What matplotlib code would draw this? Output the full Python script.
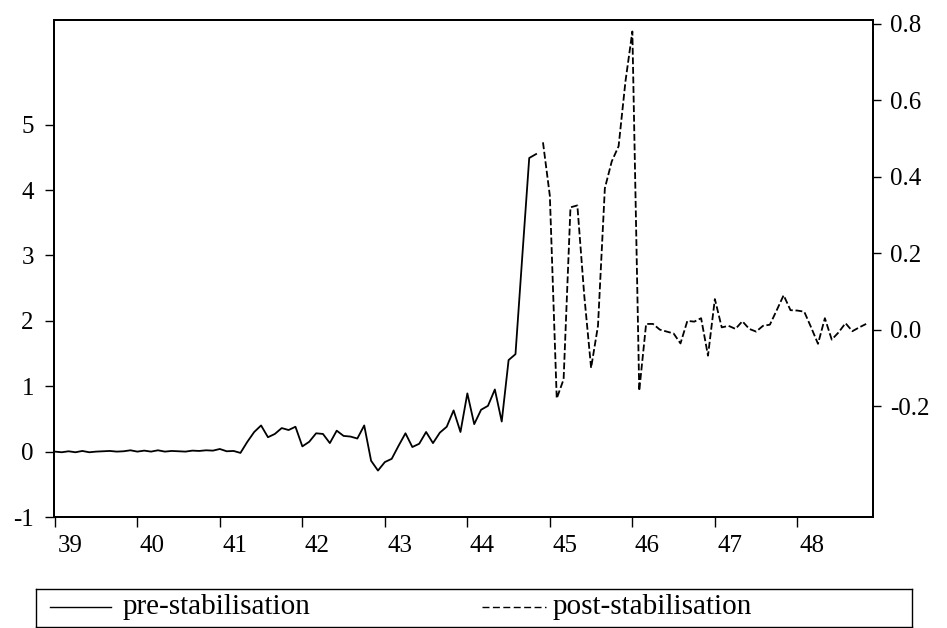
import numpy as np
import matplotlib
matplotlib.use("Agg")
import matplotlib.pyplot as plt
import matplotlib.transforms as mtransforms

# monthly series, Jan 1939 onwards (pre on left axis, post on right axis)
pre = [0.0, -0.01, 0.005, -0.01, 0.01, -0.01, 0.0, 0.005, 0.01, 0.0,
       0.005, 0.02, 0.0, 0.015, 0.0, 0.02, 0.0, 0.01, 0.005, 0.0,
       0.015, 0.01, 0.02, 0.015, 0.04, 0.005, 0.01, -0.02, 0.15, 0.30,
       0.40, 0.22, 0.27, 0.36, 0.33, 0.38, 0.08, 0.15, 0.28, 0.27,
       0.13, 0.32, 0.24, 0.23, 0.20, 0.40, -0.14, -0.29, -0.16, -0.11,
       0.09, 0.28, 0.07, 0.12, 0.30, 0.13, 0.29, 0.38, 0.63, 0.30,
       0.89, 0.42, 0.64, 0.70, 0.95, 0.46, 1.40, 1.49, 3.0, 4.49,
       4.55]
post = [0.49, 0.35, -0.18, -0.13, 0.32, 0.325, 0.09, -0.10, 0.01, 0.37,
        0.44, 0.48, 0.65, 0.78, -0.16, 0.015, 0.015, 0.0, -0.005, -0.01,
        -0.036, 0.023, 0.021, 0.03, -0.068, 0.08, 0.006, 0.01, 0.002, 0.022,
        0.002, -0.005, 0.01, 0.013, 0.051, 0.09, 0.051, 0.05, 0.047, 0.006,
        -0.037, 0.03, -0.026, -0.007, 0.017, -0.004, 0.006, 0.015]

year_ticks = list(range(1939, 1949))
year_labels = [str(y)[2:] for y in year_ticks]
left_ticks = [-1, 0, 1, 2, 3, 4, 5]
right_ticks = [-0.2, 0.0, 0.2, 0.4, 0.6, 0.8]
labels = ["pre-stabilisation", "post-stabilisation"]

plt.rcParams["font.family"] = ["Liberation Serif", "DejaVu Serif"]
plt.rcParams["axes.unicode_minus"] = False

W, H = 947, 628
fig = plt.figure(figsize=(W / 100, H / 100), dpi=100)
ax = fig.add_axes([54 / W, (H - 517) / H, (873 - 54) / W, (517 - 20) / H])

x_pre = 1939 + np.arange(len(pre)) / 12
x_post = 1939 + (len(pre) + np.arange(len(post))) / 12

dash = (0, (3.8, 1.5))
ax.plot(x_pre, pre, color="black", lw=1.3)
ax.set_xlim(1938.99, 1939 + 119 / 12)
ax.set_ylim(-1, 6.6)
ax.set_yticks(left_ticks)
ax.set_yticklabels([str(v) for v in left_ticks])
ax.set_xticks(year_ticks)
ax.set_xticklabels(year_labels)

ax2 = ax.twinx()
ax2.plot(x_post, post, color="black", lw=1.3, ls=dash)
ax2.set_ylim(-0.49, 0.81)
ax2.set_yticks(right_ticks)
ax2.set_yticklabels(["%.1f" % v for v in right_ticks])

for a in (ax, ax2):
    for s in a.spines.values():
        s.set_linewidth(1.4)
ax.tick_params(axis="y", direction="out", length=6.5, width=1, pad=8, labelsize=18)
ax.tick_params(axis="x", direction="out", length=7, width=1, pad=6, labelsize=18)
ax2.tick_params(axis="y", direction="out", length=6, width=1, pad=6, labelsize=18)

# EViews puts the year label just right of its tick
offset = mtransforms.ScaledTranslation(0.15, 0, fig.dpi_scale_trans)
for lab in ax.get_xticklabels():
    lab.set_transform(lab.get_transform() + offset)

# legend box drawn in pixel units
lax = fig.add_axes([36 / W, 1 / H, (912 - 36) / W, (627 - 589) / H])
lax.set_xlim(36, 912)
lax.set_ylim(627, 589)
lax.set_xticks([])
lax.set_yticks([])
for s in lax.spines.values():
    s.set_linewidth(1.0)
lax.plot([50, 111], [607, 607], color="black", lw=1.0)
lax.text(123, 607, labels[0], fontsize=21, va="center", ha="left")
lax.plot([482, 546], [607, 607], color="black", lw=1.0, ls=(0, (5, 2.5)))
lax.text(553, 607, labels[1], fontsize=21, va="center", ha="left")

plt.savefig("out.png", dpi=100)
